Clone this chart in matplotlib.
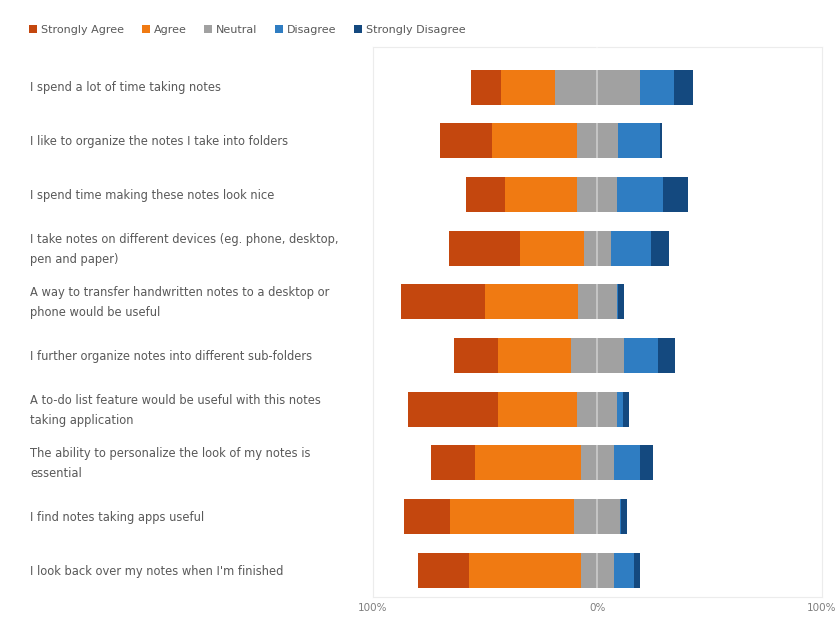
import matplotlib.pyplot as plt

questions = [
    "I spend a lot of time taking notes",
    "I like to organize the notes I take into folders",
    "I spend time making these notes look nice",
    "I take notes on different devices (eg. phone, desktop,\npen and paper)",
    "A way to transfer handwritten notes to a desktop or\nphone would be useful",
    "I further organize notes into different sub-folders",
    "A to-do list feature would be useful with this notes\ntaking application",
    "The ability to personalize the look of my notes is\nessential",
    "I find notes taking apps useful",
    "I look back over my notes when I'm finished",
]
strongly_agree = [13.7, 23.1, 17.4, 31.6, 37.6, 19.6, 40.5, 19.7, 20.2, 22.7]
agree = [23.9, 37.8, 32.2, 28.7, 41.1, 32.7, 35.2, 47.1, 55.5, 50.1]
neutral = [37.8, 18.1, 17.8, 11.9, 17.6, 23.4, 17.8, 14.5, 20.5, 14.5]
disagree = [15.2, 19.0, 20.5, 18.1, 0.3, 15.3, 2.7, 11.6, 0.3, 9.3]
strongly_disagree = [8.4, 0.8, 11.1, 8.1, 2.6, 7.7, 2.7, 6.0, 2.7, 2.3]

categories = ["Strongly Agree", "Agree", "Neutral", "Disagree", "Strongly Disagree"]
colors = ["#C4470E", "#F07A12", "#A1A1A1", "#2F7DC2", "#14497F"]
tick_vals = [-100, 0, 100]
tick_labels = ["100%", "0%", "100%"]

fig = plt.figure(figsize=(8.37, 6.17), dpi=100)
ax = fig.add_axes([0.4456, 0.0324, 0.536, 0.891])

ypos = list(range(len(questions)))
h = 0.65
# agree side grows leftwards from half of neutral
left_n = [-n / 2 for n in neutral]
left_a = [ln - a for ln, a in zip(left_n, agree)]
left_sa = [la - sa for la, sa in zip(left_a, strongly_agree)]
ax.barh(ypos, strongly_agree, left=left_sa, height=h, color=colors[0], label=categories[0])
ax.barh(ypos, agree, left=left_a, height=h, color=colors[1], label=categories[1])
ax.barh(ypos, neutral, left=left_n, height=h, color=colors[2], label=categories[2])
right_d = [n / 2 for n in neutral]
right_sd = [rd + d for rd, d in zip(right_d, disagree)]
ax.barh(ypos, disagree, left=right_d, height=h, color=colors[3], label=categories[3])
ax.barh(ypos, strongly_disagree, left=right_sd, height=h, color=colors[4], label=categories[4])

# faint line at 0 (only shows over the bars)
ax.axvline(0, color="white", alpha=0.45, lw=1.2, zorder=3)

ax.set_xlim(-100, 100)
ax.set_ylim(9.5, -0.745)
ax.set_xticks(tick_vals)
ax.set_xticklabels(tick_labels, color="#7f7f7f", fontsize=7.5)
ax.tick_params(axis="x", length=0, pad=4)
ax.set_yticks([])
for s in ax.spines.values():
    s.set_color("#ececec")
    s.set_linewidth(0.8)

for y, q in zip(ypos, questions):
    fig.text(30 / 837, 1 - (88 + y * 53.7) / 617, q, ha="left", va="center",
             fontsize=8.3, color="#595959", linespacing=1.7)

handles, labels = ax.get_legend_handles_labels()
leg = fig.legend(handles, labels, loc="center left", bbox_to_anchor=(25 / 837, 1 - 30 / 617),
                 ncol=5, frameon=False, fontsize=8.0, handlelength=0.7, handleheight=0.7,
                 handletextpad=0.35, columnspacing=1.6, borderaxespad=0)
for t in leg.get_texts():
    t.set_color("#595959")

plt.savefig("out.png", dpi=100)
